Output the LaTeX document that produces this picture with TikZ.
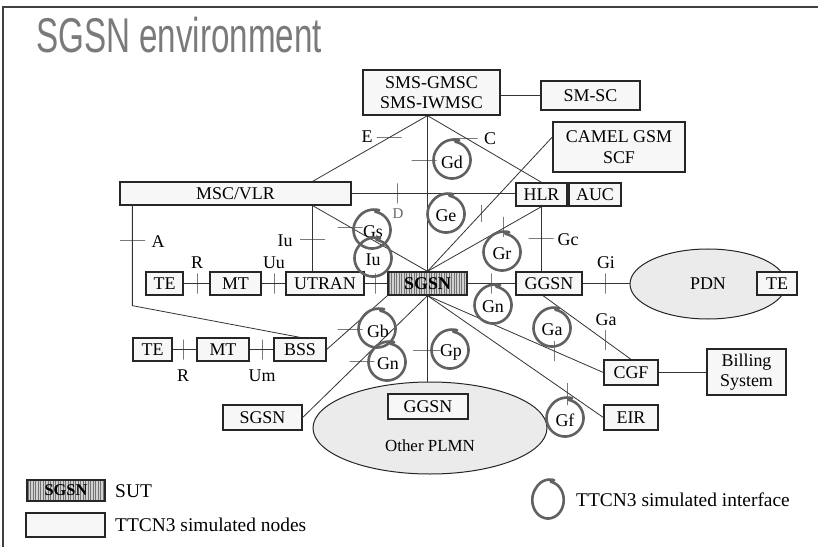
\documentclass[tikz,border=0pt]{standalone}
\usepackage{fontspec}
\setmainfont{Liberation Serif}
\newfontfamily\titlefont[FakeStretch=0.68]{Liberation Sans}
\usetikzlibrary{shapes.geometric,calc}
\begin{document}
\begin{tikzpicture}[x=1bp,y=-1bp,
  nodebox/.style={draw=black!85, fill=black!3, line width=1.3bp, inner sep=0pt, align=center,
    font=\fontsize{18}{20}\selectfont},
  sutbox/.style={nodebox, fill=black!18, font=\fontsize{18}{20}\selectfont\bfseries,
    path picture={\foreach \i in {1.25,3.75,...,80} {\draw[black!55,line width=0.6bp]
      ([xshift=\i*1bp]path picture bounding box.south west) -- ([xshift=\i*1bp]path picture bounding box.north west);}}},
  cloud/.style={ellipse, draw=black!85, fill=black!8, line width=1bp, inner sep=0pt,
    font=\fontsize{18}{20}\selectfont},
  conn/.style={draw=black!80, line width=0.8bp},
  tickv/.style={draw=black!80, line width=0.8bp, minimum width=0pt, minimum height=20bp, inner sep=0pt},
  tickh/.style={draw=black!80, line width=0.8bp, minimum height=0pt, minimum width=25bp, inner sep=0pt},
  lbl/.style={inner sep=0pt, font=\fontsize{18}{20}\selectfont},
  leg/.style={inner sep=0pt, font=\fontsize{19.5}{21}\selectfont},
  ifc/.style={draw=black!62, line width=2.6bp, line cap=round},
  pics/ifcirc/.style={code={\draw[ifc] plot[smooth, domain=0:370, samples=50]
      ({-70-\x}:{18.5*(1.14-0.14*min(\x,70)/70)});}}
]
\useasboundingbox (0,0) rectangle (818,547);
\fill[white] (0,0) rectangle (818,547);
% frame
\draw[black!75, line width=1.6bp] (3,547) -- (3,7) -- (818,7);
% title
\node[anchor=base west, inner sep=0pt, text=black!52, font=\titlefont\fontsize{49}{55}\selectfont] (title) at (36,53) {SGSN environment};

% clouds
\node[cloud, minimum width=156bp, minimum height=70bp] (pdn) at (708,284) {PDN};
\node[cloud, minimum width=234bp, minimum height=92bp] (plmn) at (430,428) {};
\node[lbl, font=\fontsize{17}{19}\selectfont] (plmnt) at (430,446) {Other PLMN};

% boxes
\node[nodebox, minimum width=137bp, minimum height=45bp] (sms) at (431.5,92.5) {SMS-GMSC\\SMS-IWMSC};
\node[nodebox, minimum width=99bp, minimum height=29bp] (smsc) at (590.5,95.5) {SM-SC};
\node[nodebox, minimum width=132bp, minimum height=50bp, font=\fontsize{18}{21}\selectfont] (camel) at (619,147) {CAMEL GSM\\SCF};
\node[nodebox, minimum width=51bp, minimum height=23bp] (hlr) at (541.5,194.5) {HLR};
\node[nodebox, minimum width=52bp, minimum height=23bp] (auc) at (595,194.5) {AUC};
\node[nodebox, minimum width=231bp, minimum height=23bp] (msc) at (235.5,193.5) {MSC/VLR};

\node[nodebox, minimum width=37bp, minimum height=23bp] (te1) at (164.5,283.5) {TE};
\node[nodebox, minimum width=51bp, minimum height=23bp] (mt1) at (235.5,283.5) {MT};
\node[nodebox, minimum width=78bp, minimum height=23bp] (utran) at (325,283.5) {UTRAN};
\node[sutbox, minimum width=79bp, minimum height=23bp] (sgsn) at (427.5,283.5) {SGSN};
\node[nodebox, minimum width=66bp, minimum height=23bp] (ggsn) at (549,283.5) {GGSN};
\node[nodebox, minimum width=40bp, minimum height=23bp] (te3) at (777,283.5) {TE};

\node[nodebox, minimum width=39bp, minimum height=23bp] (te2) at (152.5,349.5) {TE};
\node[nodebox, minimum width=52bp, minimum height=23bp] (mt2) at (223,349.5) {MT};
\node[nodebox, minimum width=52bp, minimum height=23bp] (bss) at (300,349.5) {BSS};

\node[nodebox, minimum width=79bp, minimum height=25bp] (osgsn) at (262.5,417.5) {SGSN};
\node[nodebox, minimum width=80bp, minimum height=25bp] (oggsn) at (428,406.5) {GGSN};
\node[nodebox, minimum width=54bp, minimum height=25bp] (cgf) at (631,372.5) {CGF};
\node[nodebox, minimum width=54bp, minimum height=25bp] (eir) at (631,417.5) {EIR};
\node[nodebox, minimum width=79bp, minimum height=46bp] (bill) at (746.5,372) {Billing\\System};

% helper coordinates
\coordinate (smsb) at (sgsn.north |- sms.south);
\coordinate (mscb) at ([xshift=-39bp]msc.south east);
\coordinate (msct) at ([xshift=-39bp]msc.north east);
\coordinate (ma) at ([xshift=13bp]msc.south west);
\coordinate (abend) at ([yshift=-100bp]ma);

% connectors
\draw[conn] (te1) -- (mt1);
\draw[conn] (mt1) -- (utran);
\draw[conn] (utran) -- (sgsn);
\draw[conn] (sgsn) -- (ggsn);
\draw[conn] (ggsn.east) -- (ggsn.east -| pdn.west);
\draw[conn] (te2) -- (mt2);
\draw[conn] (mt2) -- (bss);
\draw[conn] (cgf) -- (cgf -| bill.west);
\draw[conn] (smsc.west) -- (smsc.west -| sms.east);
\draw[conn] (sgsn.north) -- (smsb);
\draw[conn] (smsb) -- (msct);
\draw[conn] (smsb) -- (hlr.north);
\draw[conn] (mscb) -- (mscb |- utran.north);
\draw[conn] (mscb) -- (sgsn.north);
\draw[conn] (msc.east) -- (msc.east -| hlr.west);
\draw[conn] (sgsn.north) -- ([yshift=10bp]camel.west);
\draw[conn] (sgsn.north) -- (hlr.south);
\draw[conn] (hlr.south) -- (hlr.south |- ggsn.north);
\draw[conn] (ma) -- (abend) -- (bss.north);
\draw[conn] (bss.east) -- (sgsn.south west);
\draw[conn] (sgsn.south) -- (osgsn.east);
\draw[conn] (sgsn.south) -- (sgsn.south |- plmn.north);
\draw[conn] (sgsn.south) -- (cgf.west);
\draw[conn] (sgsn.south) -- (eir.west);
\draw[conn] ([xshift=-6bp]ggsn.south) -- (cgf.north);

% ticks
\node[tickv] (tr1) at (197,283.5) {};
\node[tickv] (tuu) at (274,283.5) {};
\node[tickv] (tiu2) at (375,283.5) {};
\node[tickv] (tgn1) at (491,283.5) {};
\node[tickv] (tgi) at (605,283.5) {};
\node[tickv] (tr2) at (183,349.5) {};
\node[tickv] (tum) at (262,349.5) {};
\node[tickv] (td) at (397,193.5) {};
\node[tickv, minimum height=17bp] (tge) at (481,213.5) {};
\node[tickv] (tgr) at (503,227) {};
\node[tickv] (tga1) at (554,351) {};
\node[tickv] (tga2) at (605,340) {};
\node[tickv, minimum height=22bp] (tgf) at (567,394) {};
\node[tickh] (ta) at (132.5,240) {};
\node[tickh] (tiu) at (312.5,239) {};
\node[tickh] (te) at (389,137) {};
\node[tickh] (tc) at (465,138) {};
\node[tickh] (tgd) at (424,160) {};
\node[tickh] (tgs) at (350,227) {};
\node[tickh] (tgc) at (541,238) {};
\node[tickh] (tgb) at (350,329) {};
\node[tickh] (tgn2) at (362,361) {};
\node[tickh, minimum width=27bp] (tgp) at (426.5,350) {};

% labels
\node[lbl] (lr1) at (197,263) {R};
\node[lbl] (luu) at (274,263) {Uu};
\node[lbl] (lr2) at (183,376) {R};
\node[lbl] (lum) at (262,376) {Um};
\node[lbl] (la) at (158,242) {A};
\node[lbl] (liu) at (285,241) {Iu};
\node[lbl] (le) at (367,137) {E};
\node[lbl] (lc) at (490,139) {C};
\node[lbl, text=black!60, font=\fontsize{15}{17}\selectfont] (ld) at (398,214) {D};
\node[lbl] (lgc) at (568,240) {Gc};
\node[lbl] (lgi) at (606,263) {Gi};
\node[lbl] (lga) at (606,320) {Ga};

% TTCN3 simulated interfaces
\pic at (452,160) {ifcirc}; \node[lbl] (igd) at (452,162) {Gd};
\pic at (446,214) {ifcirc}; \node[lbl] (ige) at (446,216) {Ge};
\pic at (372,230) {ifcirc}; \node[lbl] (igs) at (373,232) {Gs};
\pic at (373,258) {ifcirc}; \node[lbl] (iiu) at (373,260) {Iu};
\pic at (502,252) {ifcirc}; \node[lbl] (igr) at (502,254) {Gr};
\pic at (493,305) {ifcirc}; \node[lbl] (ign1) at (493,307) {Gn};
\pic at (552,328) {ifcirc}; \node[lbl] (iga) at (552,330) {Ga};
\pic at (565,418) {ifcirc}; \node[lbl] (igf) at (565,420) {Gf};
\pic at (377,329) {ifcirc}; \node[lbl] (igb) at (378,331) {Gb};
\pic at (387,362) {ifcirc}; \node[lbl] (ign2) at (388,364) {Gn};
\pic at (450,350) {ifcirc}; \node[lbl] (igp) at (451,352) {Gp};

% legend
\node[sutbox, minimum width=78bp, minimum height=21bp, font=\fontsize{16.5}{18}\selectfont\bfseries] (lsut) at (66,490.5) {SGSN};
\node[leg, anchor=west] (lsutt) at (115,491) {SUT};
\node[nodebox, minimum width=79bp, minimum height=24bp] (lnode) at (65.5,525) {};
\node[leg, anchor=west] (lnodet) at (115,525) {TTCN3 simulated nodes};
\pic[xscale=0.85] at (548,500) {ifcirc};
\node[leg, anchor=west] (lifct) at (576,500) {TTCN3 simulated interface};
\end{tikzpicture}
\end{document}
